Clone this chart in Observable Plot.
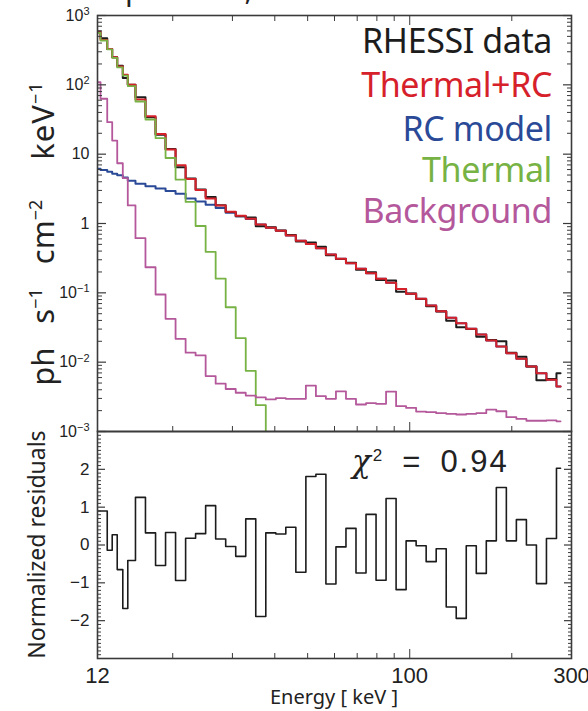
<!DOCTYPE html>
<html><head><meta charset="utf-8">
<script src="https://cdn.jsdelivr.net/npm/d3@7"></script>
<script src="https://cdn.jsdelivr.net/npm/@observablehq/plot@0.6"></script>
<style>
body{margin:0;background:#fff;}
#wrap{position:relative;width:588px;height:711px;overflow:hidden;font-family:"Noto Sans",sans-serif;color:#222;}
#top,#bot{position:absolute;left:0;}
#top{top:0;} #bot{top:431px;}
.leg{position:absolute;right:36px;font-size:34px;line-height:0.95;white-space:nowrap;letter-spacing:-0.4px;}
.rot{position:absolute;white-space:nowrap;transform-origin:center center;}
</style></head><body>
<div id="wrap">
  <div id="top"></div>
  <div id="bot"></div>
</div>
<script>
// ---- data ----
const binEdges = [12, 12.25, 12.82, 13.26, 13.72, 14.25, 14.74, 15.53, 16.62, 17.8, 19.05, 20.39, 21.83, 23.36, 25.01, 26.77, 28.66, 30.68, 32.84, 35.15, 37.63, 40.28, 43.11, 46.15, 49.4, 52.88, 56.6, 60.59, 64.86, 69.43, 74.32, 79.56, 85.16, 91.16, 97.58, 104.45, 111.81, 119.69, 128.12, 137.14, 146.8, 157.14, 168.21, 180.06, 192.75, 206.32, 220.86, 236.41, 253.07, 270.89, 278.5];
const rhessiData = [590, 471, 330, 250, 188, 125, 100, 66, 34.2, 19.0, 11.9, 6.5, 4.45, 3.1, 2.42, 1.84, 1.47, 1.27, 1.22, 0.91, 0.88, 0.79, 0.685, 0.55, 0.53, 0.462, 0.348, 0.308, 0.272, 0.215, 0.198, 0.153, 0.151, 0.104, 0.0975, 0.0818, 0.064, 0.0538, 0.0395, 0.0318, 0.0302, 0.0233, 0.0208, 0.0200, 0.0137, 0.0120, 0.00865, 0.0055, 0.0057, 0.0069];
const thermalRC = [575, 445, 330, 250, 184, 140, 100, 61.4, 35.3, 19.6, 11.7, 6.9, 4.4, 3.05, 2.3, 1.82, 1.48, 1.29, 1.17, 0.97, 0.87, 0.785, 0.67, 0.565, 0.505, 0.44, 0.357, 0.309, 0.267, 0.222, 0.192, 0.159, 0.14, 0.114, 0.0968, 0.0819, 0.0656, 0.0543, 0.0436, 0.0365, 0.0303, 0.0251, 0.0205, 0.0168, 0.0135, 0.0112, 0.00865, 0.00693, 0.00556, 0.00445];
const rcModel = [6.15, 5.9, 5.6, 5.2, 4.95, 4.6, 4.15, 3.75, 3.45, 3.2, 2.95, 2.68, 2.3, 2.07, 1.87, 1.67, 1.43, 1.27, 1.16, 0.965, 0.87, 0.785, 0.67, 0.565, 0.505, 0.44, 0.357, 0.309, 0.267, 0.222, 0.192, 0.159, 0.14, 0.114, 0.0968, 0.0819, 0.0656, 0.0543, 0.0436, 0.0365, 0.0303, 0.0251, 0.0205, 0.0168, 0.0135, 0.0112, 0.00865, 0.00693, 0.00556, 0.00445];
const thermal = [560, 436, 325, 245, 178, 136, 96, 57.5, 31.6, 17, 8.8, 4.3, 2.05, 0.92, 0.39, 0.16, 0.062, 0.0222, 0.0075, 0.0024, 0.0004];
const background = [109, 63, 28.9, 15.7, 7.4, 4.5, 1.82, 0.614, 0.234, 0.0946, 0.0422, 0.0217, 0.0137, 0.0125, 0.0063, 0.0049, 0.0041, 0.00362, 0.0033, 0.0031, 0.0029, 0.00302, 0.00296, 0.00296, 0.0046, 0.00323, 0.00296, 0.0038, 0.00296, 0.00245, 0.00256, 0.00251, 0.00377, 0.00232, 0.00219, 0.00194, 0.0019, 0.00184, 0.0018, 0.00176, 0.0018, 0.00184, 0.00207, 0.00196, 0.00161, 0.00152, 0.00143, 0.00143, 0.00145, 0.0014];
const residuals = [0.9, 0.9, -0.14, 0.27, -0.65, -1.68, -0.41, 1.26, 0.32, -0.54, 0.33, -0.94, 0.18, 0.30, 1.04, 0.16, -0.04, -0.30, 0.69, -1.89, 0.32, 0.29, 0.47, -0.72, 1.81, 1.87, -1.03, -0.05, 0.44, -0.74, 0.81, -0.93, 1.23, -1.18, 0.11, -0.02, -0.44, -0.1, -1.64, -1.94, -0.02, -0.75, 0.11, 1.52, 0.11, 0.67, 0.0, -1.02, 0.17, 2.03];

const legendLabels = ["RHESSI data", "Thermal+RC", "RC model", "Thermal", "Background"];
const colors = {"RHESSI data": "#1c1c1c", "Thermal+RC": "#d6212b", "RC model": "#2a4a98", "Thermal": "#77b244", "Background": "#b4589b"};

const xDomain = [12, 300];
const xMinorTicks = [20, 30, 40, 50, 60, 70, 80, 90, 200];
const xMajorTicks = [100];
const xTickLabels = [12, 100, 300];
const yMajorTop = [1e-3, 1e-2, 1e-1, 1, 10, 100, 1000];
const yTopLabels = ["10^−3", "10^−2", "10^−1", "1", "10", "10^2", "10^3"];
const yMajorBot = [-2, -1, 0, 1, 2];
const yBotLabels = ["−2", "−1", "0", "1", "2"];

const yMinorTop = [];
for (let k = -3; k < 3; k++) for (let m = 2; m <= 9; m++) yMinorTop.push(m * Math.pow(10, k));
const yMinorBot = [];
for (let i = -29; i <= 29; i++) if (i % 10 !== 0) yMinorBot.push(i / 10);

function steps(vals) {
  const pts = vals.map((v, i) => ({x: binEdges[i], y: v}));
  pts.push({x: binEdges[vals.length], y: vals[vals.length - 1]});
  return pts;
}

const axisColor = "#3a3a3a";
function frameTicks(ticksMajorY, ticksMinorY, majY, minY) {
  return [
    Plot.axisY({anchor: "left", ticks: ticksMajorY, tickSize: -majY, fill: "none", stroke: axisColor, strokeWidth: 1.2, label: null}),
    Plot.axisY({anchor: "left", ticks: ticksMinorY, tickSize: -minY, fill: "none", stroke: axisColor, strokeWidth: 1, label: null}),
    Plot.axisY({anchor: "right", ticks: ticksMajorY, tickSize: -majY, fill: "none", stroke: axisColor, strokeWidth: 1.2, label: null}),
    Plot.axisY({anchor: "right", ticks: ticksMinorY, tickSize: -minY, fill: "none", stroke: axisColor, strokeWidth: 1, label: null})
  ];
}

const topPlot = Plot.plot({
  width: 588, height: 431,
  marginLeft: 97, marginRight: 17, marginTop: 15, marginBottom: 0,
  style: {fontFamily: "Liberation Sans, Arial, sans-serif", overflow: "visible", background: "transparent"},
  x: {type: "log", domain: xDomain, label: null},
  y: {type: "log", domain: [1e-3, 1e3], label: null},
  marks: [
    Plot.line(steps(rcModel), {x: "x", y: "y", curve: "step-after", stroke: colors["RC model"], strokeWidth: 2, clip: true}),
    Plot.line(steps(rhessiData), {x: "x", y: "y", curve: "step-after", stroke: colors["RHESSI data"], strokeWidth: 2, clip: true}),
    Plot.line(steps(thermalRC), {x: "x", y: "y", curve: "step-after", stroke: colors["Thermal+RC"], strokeWidth: 2, clip: true}),
    Plot.line(steps(thermal), {x: "x", y: "y", curve: "step-after", stroke: colors["Thermal"], strokeWidth: 1.8, clip: true}),
    Plot.line(steps(background), {x: "x", y: "y", curve: "step-after", stroke: colors["Background"], strokeWidth: 1.8, clip: true}),
    ...frameTicks(yMajorTop, yMinorTop, 9, 5),
    Plot.axisX({anchor: "top", ticks: xMinorTicks, tickSize: -5, fill: "none", stroke: axisColor, label: null}),
    Plot.axisX({anchor: "top", ticks: xMajorTicks, tickSize: -9, fill: "none", stroke: axisColor, label: null}),
    Plot.axisX({anchor: "bottom", ticks: xMinorTicks, tickSize: -5, fill: "none", stroke: axisColor, label: null}),
    Plot.axisX({anchor: "bottom", ticks: xMajorTicks, tickSize: -9, fill: "none", stroke: axisColor, label: null}),
    Plot.axisY({anchor: "left", ticks: yMajorTop, tickSize: 0, tickPadding: 8, fontSize: 16, fill: "#222",
      tickFormat: d => yTopLabels[yMajorTop.indexOf(d)], label: null}),
    Plot.frame({stroke: axisColor, strokeWidth: 1.6})
  ]
});
document.getElementById("top").appendChild(topPlot);

// superscripts on the log tick labels
d3.select(topPlot).selectAll("g[aria-label='y-axis tick label'] text").each(function () {
  const t = this.textContent;
  if (t.includes("^")) {
    const [base, exp] = t.split("^");
    const sel = d3.select(this);
    sel.text("");
    sel.append("tspan").text(base);
    sel.append("tspan").attr("dy", "-0.5em").attr("font-size", "11px").text(exp);
  }
});

const botPlot = Plot.plot({
  width: 588, height: 280,
  marginLeft: 97, marginRight: 17, marginTop: 0, marginBottom: 53,
  style: {fontFamily: "Liberation Sans, Arial, sans-serif", overflow: "visible", background: "transparent"},
  x: {type: "log", domain: xDomain, label: null},
  y: {domain: [-3, 3], label: null},
  marks: [
    Plot.line(steps(residuals), {x: "x", y: "y", curve: "step-after", stroke: "#1c1c1c", strokeWidth: 1.6, clip: true}),
    ...frameTicks(yMajorBot, yMinorBot, 8, 4),
    Plot.axisX({anchor: "bottom", ticks: xMinorTicks, tickSize: -5, fill: "none", stroke: axisColor, label: null}),
    Plot.axisX({anchor: "bottom", ticks: xMajorTicks, tickSize: -9, fill: "none", stroke: axisColor, label: null}),
    Plot.axisX({anchor: "bottom", ticks: xTickLabels, tickSize: 0, tickPadding: 9, fontSize: 22, fill: "#222",
      tickFormat: d => String(d), label: null}),
    Plot.axisY({anchor: "left", ticks: yMajorBot, tickSize: 0, tickPadding: 8, fontSize: 17, fill: "#222",
      tickFormat: d => yBotLabels[yMajorBot.indexOf(d)], label: null}),
    Plot.frame({stroke: axisColor, strokeWidth: 1.6})
  ]
});
document.getElementById("bot").appendChild(botPlot);

// ---- text: title (cropped), legend, axis titles, chi-square ----
const wrap = document.getElementById("wrap");
function addDiv(html, style, cls) {
  const d = document.createElement("div");
  if (cls) d.className = cls;
  d.innerHTML = html;
  Object.assign(d.style, style);
  wrap.appendChild(d);
  return d;
}
addDiv("Flare spectrum, thermal model + RC fit", {position: "absolute", left: "34px", top: "-32px", fontSize: "30px", whiteSpace: "nowrap", color: "#222"});

const legendTops = [24, 68, 112, 153, 194];
legendLabels.forEach((lab, i) => {
  addDiv(lab, {top: legendTops[i] + "px", color: colors[lab]}, "leg");
});

const supS = 'style="font-size:18px"';
const yt = addDiv('ph<span style="margin-left:24px">s<sup ' + supS + '>−1</sup></span><span style="margin-left:24px">cm<sup ' + supS + '>−2</sup></span><span style="margin-left:40px;letter-spacing:1px">keV<sup ' + supS + '>−1</sup></span>',
  {fontSize: "31px", lineHeight: "1", color: "#222"}, "rot");
const ytw = yt.offsetWidth, yth = yt.offsetHeight;
yt.style.left = (42 - ytw / 2) + "px";
yt.style.top = (233 - yth / 2) + "px";
yt.style.transform = "rotate(-90deg)";

const yr = addDiv("Normalized residuals", {fontSize: "23px", lineHeight: "1", color: "#222"}, "rot");
const yrw = yr.offsetWidth, yrh = yr.offsetHeight;
yr.style.left = (36 - yrw / 2) + "px";
yr.style.top = (544 - yrh / 2) + "px";
yr.style.transform = "rotate(-90deg)";

addDiv("Energy [ keV ]", {position: "absolute", left: "0", width: "668px", textAlign: "center", top: "683px", fontSize: "20px", color: "#222"});

addDiv('<i style="font-family:\'DejaVu Serif\',serif">χ</i><sup style="font-size:17px;margin-left:2px">2</sup><span style="margin-left:20px">=</span><span style="margin-left:20px;letter-spacing:2px">0.94</span>',
  {position: "absolute", left: "352px", top: "446px", fontSize: "31px", lineHeight: "1", fontFamily: "Liberation Sans, Arial, sans-serif", color: "#222", whiteSpace: "nowrap"});
</script>
</body></html>
